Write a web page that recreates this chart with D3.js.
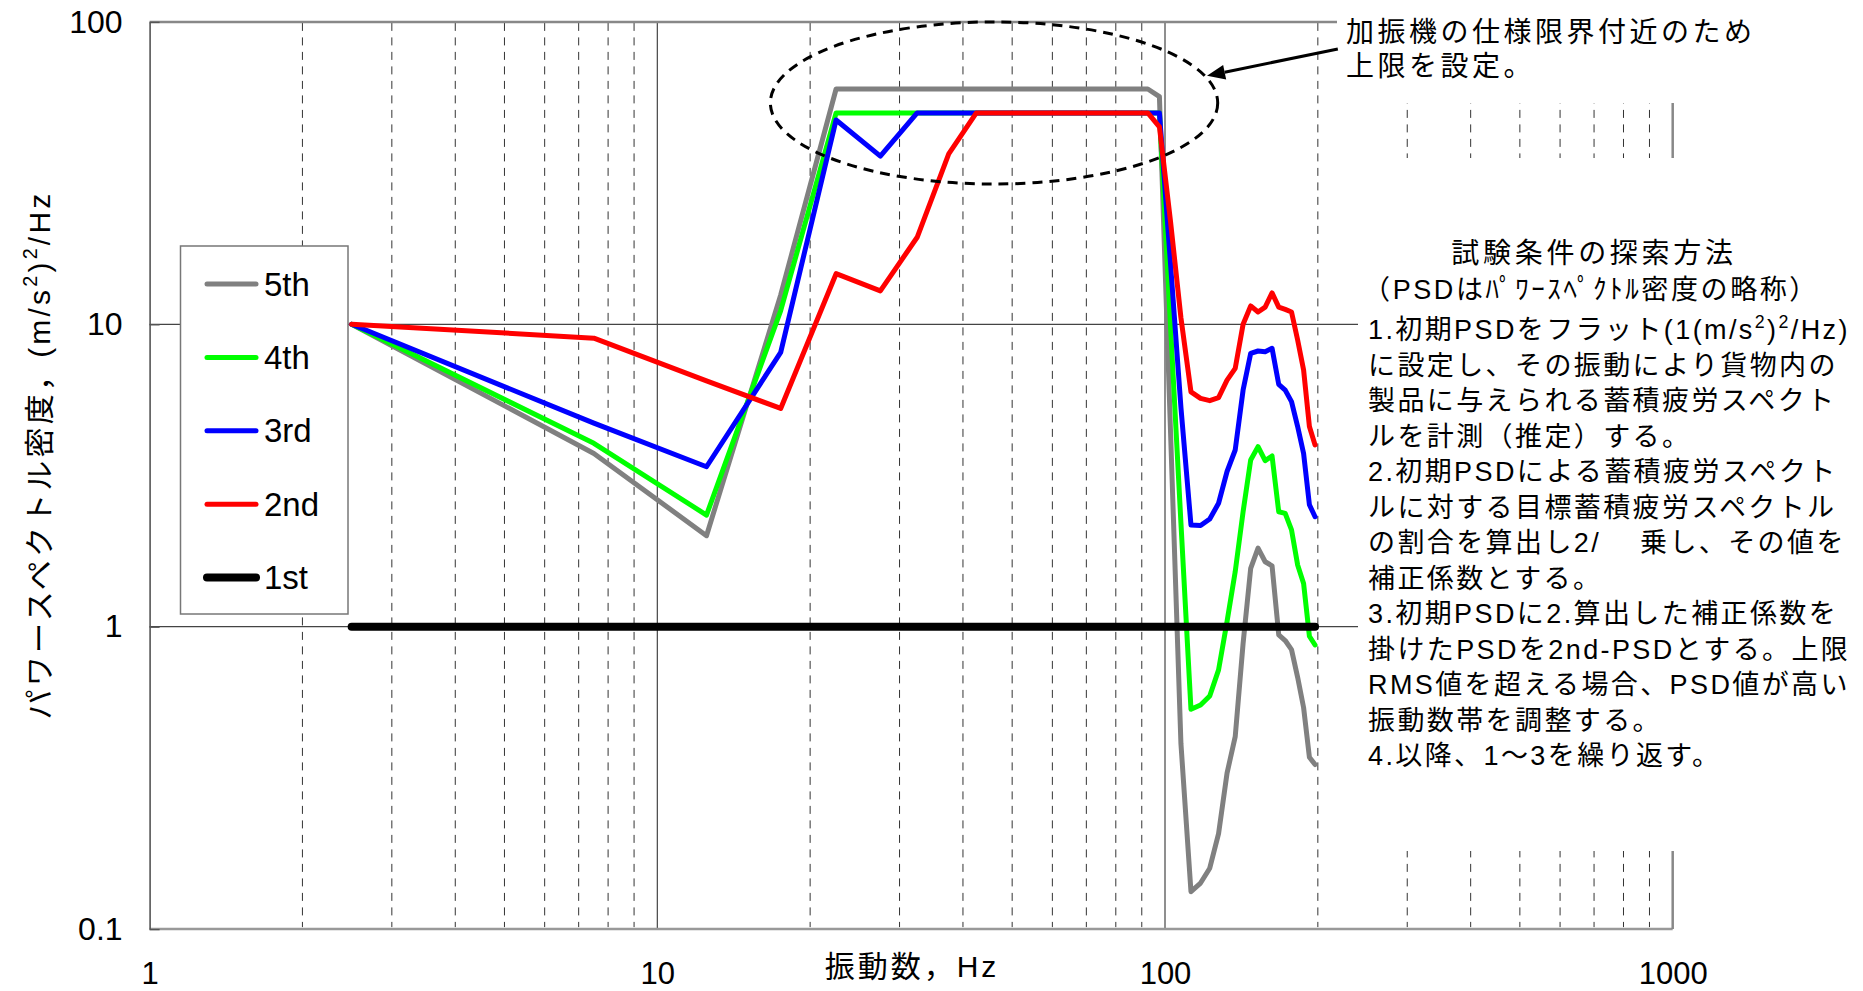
<!DOCTYPE html>
<html><head><meta charset="utf-8">
<script src="https://cdn.jsdelivr.net/npm/d3@7"></script>
<style>body{margin:0;background:#fff}svg{display:block}</style>
</head><body>
<svg id="c" width="1863" height="991"></svg>
<script>
// ---------- data ----------
const freqs = [2.5, 7.5, 12.5, 17.5, 22.5, 27.5, 32.5, 37.5, 42.5, 47.5,
  52.5, 57.5, 62.5, 67.5, 72.5, 77.5, 82.5, 87.5, 92.5, 97.5,
  102.5, 107.5, 112.5, 117.5, 122.5, 127.5, 132.5, 137.5, 142.5, 147.5,
  152.5, 157.5, 162.5, 167.5, 172.5, 177.5, 182.5, 187.5, 192.5, 197.5];
const psd5th = [10, 3.74, 2.0, 12.5, 60, 60, 60, 60, 60, 60,
  60, 60, 60, 60, 60, 60, 60, 60, 60, 56.6,
  4.5, 0.41, 0.133, 0.142, 0.159, 0.207, 0.328, 0.433, 0.88, 1.56,
  1.82, 1.64, 1.59, 0.94, 0.90, 0.84, 0.68, 0.54, 0.37, 0.35];
const psd4th = [10, 4.04, 2.34, 11.1, 50, 50, 50, 50, 50, 50,
  50, 50, 50, 50, 50, 50, 50, 50, 50, 50,
  10, 2.2, 0.533, 0.551, 0.59, 0.72, 1.04, 1.52, 2.40, 3.56,
  3.94, 3.54, 3.67, 2.40, 2.37, 2.09, 1.60, 1.39, 0.93, 0.87];
const psd3rd = [10, 4.71, 3.38, 8.08, 47.4, 36.0, 50, 50, 50, 50,
  50, 50, 50, 50, 50, 50, 50, 50, 50, 50,
  16, 5.3, 2.17, 2.16, 2.27, 2.56, 3.26, 3.84, 6.06, 8.02,
  8.16, 8.12, 8.33, 6.33, 6.06, 5.55, 4.59, 3.74, 2.53, 2.31];
const psd2nd = [10, 9.0, 6.5, 5.27, 14.7, 12.9, 19.4, 36.6, 50, 50,
  50, 50, 50, 50, 50, 50, 50, 50, 50, 45,
  22, 10.5, 5.98, 5.69, 5.59, 5.72, 6.54, 7.15, 10.0, 11.5,
  10.98, 11.4, 12.7, 11.4, 11.2, 10.98, 8.87, 7.06, 4.59, 3.99];
const psd1st = [1, 1, 1, 1, 1, 1, 1, 1, 1, 1,
  1, 1, 1, 1, 1, 1, 1, 1, 1, 1,
  1, 1, 1, 1, 1, 1, 1, 1, 1, 1,
  1, 1, 1, 1, 1, 1, 1, 1, 1, 1];
const seriesNames = ["5th", "4th", "3rd", "2nd", "1st"];
const seriesValues = [psd5th, psd4th, psd3rd, psd2nd, psd1st];

const xTicks = [1, 10, 100, 1000];
const xTickLabels = ["1", "10", "100", "1000"];
const yTicks = [0.1, 1, 10, 100];
const yTickLabels = ["0.1", "1", "10", "100"];
const xMinor = [2, 3, 4, 5, 6, 7, 8, 9, 20, 30, 40, 50, 60, 70, 80, 90,
  200, 300, 400, 500, 600, 700, 800, 900];

const yTitle = ["パワースペクトル密度，(m/s", {sup: "2"}, ")", {sup: "2"}, "/Hz"];
const xTitle = "振動数，Hz";
const noteTop = ["加振機の仕様限界付近のため", "上限を設定。"];
// annotation ellipse in data units (Hz, PSD)
const ellipseBox = {f0: 16.7, f1: 127, v0: 29.1, v1: 100};
const arrowFrom = {f: 219, v: 81.4};
const arrowTo = {f: 121, v: 66.3};
const methodTitle = ["試験条件の探索方法", "（PSDはﾊﾟﾜｰｽﾍﾟｸﾄﾙ密度の略称）"];
const methodLines = [
  ["1.初期PSDをフラット(1(m/s", {sup: "2"}, ")", {sup: "2"}, "/Hz)"],
  ["に設定し、その振動により貨物内の"],
  ["製品に与えられる蓄積疲労スペクト"],
  ["ルを計測（推定）する。"],
  ["2.初期PSDによる蓄積疲労スペクト"],
  ["ルに対する目標蓄積疲労スペクトル"],
  ["の割合を算出し2/"],
  ["補正係数とする。"],
  ["3.初期PSDに2.算出した補正係数を"],
  ["掛けたPSDを2nd-PSDとする。上限"],
  ["RMS値を超える場合、PSD値が高い"],
  ["振動数帯を調整する。"],
  ["4.以降、1～3を繰り返す。"]
];
const methodLine7b = "乗し、その値を";

// ---------- styles ----------
const colors = ["#808080", "#00ff00", "#0000ff", "#ff0000", "#000000"];
const widths = [5, 5, 5, 5, 8];
const FONT = "'Liberation Sans', 'Noto Sans CJK JP', sans-serif";

const svg = d3.select("#c");
svg.append("rect").attr("width", 1863).attr("height", 991).attr("fill", "#fff");

const x = d3.scaleLog().domain([1, 1000]).range([149.6, 1672.7]);
const y = d3.scaleLog().domain([0.1, 100]).range([929.1, 21.9]);
const [X0, X1] = x.range();
const [Y0, Y1] = [y(0.1), y(100)];

// minor dashed grid
svg.append("g").selectAll("line").data(xMinor).join("line")
  .attr("x1", d => x(d)).attr("x2", d => x(d))
  .attr("y1", Y1 + 1).attr("y2", Y0 - 2)
  .attr("stroke", "#333").attr("stroke-width", 1).attr("stroke-dasharray", "8,6.5");
// major vertical grid
svg.append("g").selectAll("line").data([10, 100]).join("line")
  .attr("x1", d => x(d)).attr("x2", d => x(d))
  .attr("y1", Y1).attr("y2", Y0)
  .attr("stroke", "#333").attr("stroke-width", 1.1);
// major horizontal grid
svg.append("g").selectAll("line").data([1, 10]).join("line")
  .attr("x1", X0).attr("x2", X1)
  .attr("y1", d => y(d)).attr("y2", d => y(d))
  .attr("stroke", "#444").attr("stroke-width", 1.2);
// frame: top, right, bottom
svg.append("line").attr("x1", X0).attr("x2", X1).attr("y1", Y1).attr("y2", Y1)
  .attr("stroke", "#888").attr("stroke-width", 2.5);
svg.append("line").attr("x1", X0).attr("x2", X1).attr("y1", Y0).attr("y2", Y0)
  .attr("stroke", "#999").attr("stroke-width", 2.5);
svg.append("line").attr("x1", X1).attr("x2", X1).attr("y1", Y1).attr("y2", Y0)
  .attr("stroke", "#888").attr("stroke-width", 2.5);

// y axis
const yAxis = d3.axisLeft(y).tickValues(yTicks)
  .tickFormat((d, i) => yTickLabels[i]).tickSizeInner(-10).tickSizeOuter(0).tickPadding(27);
const gy = svg.append("g").attr("transform", `translate(${X0},0)`).call(yAxis);
gy.select(".domain").attr("stroke", "#555").attr("stroke-width", 1.6);
gy.selectAll(".tick line").attr("stroke", "#555").attr("stroke-width", 1.4);
gy.selectAll(".tick text").attr("font-family", FONT).attr("font-size", 32).attr("fill", "#000");

// x axis (labels only)
const xAxis = d3.axisBottom(x).tickValues(xTicks)
  .tickFormat((d, i) => xTickLabels[i]).tickSize(0).tickPadding(33);
const gx = svg.append("g").attr("transform", `translate(0,${Y0})`).call(xAxis);
gx.select(".domain").remove();
gx.selectAll(".tick text").attr("font-family", FONT).attr("font-size", 31).attr("fill", "#000");

// data lines
const line = d3.line().x(d => x(d[0])).y(d => y(d[1]));
seriesValues.forEach((vals, i) => {
  svg.append("path")
    .datum(freqs.map((f, k) => [f, vals[k]]))
    .attr("d", line).attr("fill", "none")
    .attr("stroke", colors[i]).attr("stroke-width", widths[i])
    .attr("stroke-linejoin", "round").attr("stroke-linecap", "round");
});

// legend
const lg = svg.append("g");
lg.append("rect").attr("x", 180.5).attr("y", 246).attr("width", 167.5).attr("height", 368)
  .attr("fill", "#fff").attr("stroke", "#777").attr("stroke-width", 1.5);
seriesNames.forEach((n, i) => {
  const cy = 284 + i * 73.4;
  lg.append("line").attr("x1", 207).attr("x2", 256).attr("y1", cy).attr("y2", cy)
    .attr("stroke", colors[i]).attr("stroke-width", widths[i]).attr("stroke-linecap", "round");
  lg.append("text").attr("x", 264).attr("y", cy).attr("dy", "0.35em")
    .attr("font-family", FONT).attr("font-size", 33).attr("fill", "#000").text(n);
});

// ellipse annotation
const ex0 = x(ellipseBox.f0), ex1 = x(ellipseBox.f1), ey0 = y(ellipseBox.v1), ey1 = y(ellipseBox.v0);
svg.append("ellipse").attr("cx", (ex0 + ex1) / 2).attr("cy", (ey0 + ey1) / 2)
  .attr("rx", (ex1 - ex0) / 2).attr("ry", (ey1 - ey0) / 2)
  .attr("fill", "none").attr("stroke", "#000").attr("stroke-width", 3)
  .attr("stroke-dasharray", "10,7");

// white text boxes
svg.append("rect").attr("x", 1337).attr("y", 0).attr("width", 526).attr("height", 103).attr("fill", "#fff");
svg.append("rect").attr("x", 1358).attr("y", 158).attr("width", 505).attr("height", 693).attr("fill", "#fff");

// arrow
const ax0 = x(arrowFrom.f), ay0 = y(arrowFrom.v), ax1 = x(arrowTo.f), ay1 = y(arrowTo.v);
const ang = Math.atan2(ay1 - ay0, ax1 - ax0);
const hl = 18, hw = 7.5;
const bx = ax1 - hl * Math.cos(ang), by = ay1 - hl * Math.sin(ang);
svg.append("line").attr("x1", ax0).attr("y1", ay0).attr("x2", bx).attr("y2", by)
  .attr("stroke", "#000").attr("stroke-width", 3);
svg.append("path").attr("d", d3.line()([
  [ax1, ay1],
  [bx + hw * Math.sin(ang), by - hw * Math.cos(ang)],
  [bx - hw * Math.sin(ang), by + hw * Math.cos(ang)]
]) + "Z").attr("fill", "#000");

// text helper
function addText(parent, px, py, parts, size, ls, anchor) {
  const t = parent.append("text").attr("x", px).attr("y", py)
    .attr("font-family", FONT).attr("font-size", size).attr("fill", "#000")
    .attr("letter-spacing", ls).attr("text-anchor", anchor || "start");
  let raised = false;
  parts.forEach(p => {
    if (typeof p === "string") {
      const s = t.append("tspan").text(p);
      if (raised) { s.attr("dy", size * 0.42); raised = false; }
    } else {
      t.append("tspan").attr("font-size", size * 0.66).attr("dy", raised ? 0 : -size * 0.42).text(p.sup);
      raised = true;
    }
  });
  return t;
}

// axis titles
const yt = svg.append("g").attr("transform", "translate(50,455) rotate(-90)");
addText(yt, 0, 0, yTitle, 30, 3.2, "middle");
addText(svg, 912, 977, [xTitle], 30, 3, "middle");

// top note
addText(svg, 1346, 42, [noteTop[0]], 28, 3.5);
addText(svg, 1346, 76, [noteTop[1]], 28, 3.5);

// method box
addText(svg, 1594, 263, [methodTitle[0]], 28, 3.7, "middle");
addText(svg, 1591, 299, [methodTitle[1]], 27, 2.6, "middle");
methodLines.forEach((parts, i) => {
  addText(svg, 1368, 339 + i * 35.5, parts, 27, 2.4);
});
addText(svg, 1640, 339 + 6 * 35.5, [methodLine7b], 27, 2.4);
</script>
</body></html>
